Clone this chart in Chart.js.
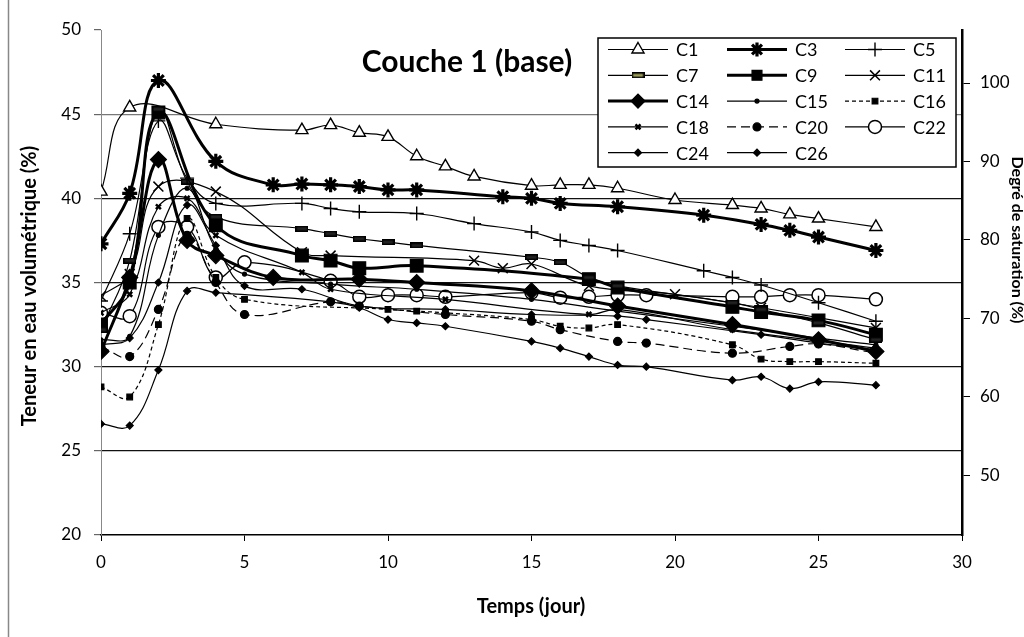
<!DOCTYPE html>
<html><head><meta charset="utf-8">
<script src="https://cdn.jsdelivr.net/npm/chart.js@4/dist/chart.umd.min.js"></script>
<style>html,body{margin:0;padding:0;background:#fff;overflow:hidden}#wrap{width:1024px;height:637px;position:relative}</style>
</head><body><div id="wrap"><canvas id="c" width="1024" height="637"></canvas></div>
<script>
const FONT = 'Lato, "Liberation Sans", sans-serif';
const chartTitle = 'Couche 1 (base)';
const xTitle = 'Temps (jour)';
const yTitle = 'Teneur en eau volumétrique (%)';
const y2Title = 'Degré de saturation (%)';
const xTicks = [0, 5, 10, 15, 20, 25, 30];
const yTicks = [20, 25, 30, 35, 40, 45, 50];
const y2Ticks = [50, 60, 70, 80, 90, 100];

const c1Days = [0,1,4,7,8,9,10,11,12,13,15,16,17,18,20,22,23,24,25,27];
const c1Vals = [40.4,45.4,44.4,44.05,44.35,43.9,43.65,42.5,41.9,41.3,40.75,40.8,40.8,40.6,39.9,39.6,39.4,39.05,38.8,38.3];
const c3Days = [0,1,2,4,6,7,8,9,10,11,14,15,16,18,21,23,24,25,27];
const c3Vals = [37.3,40.3,47.0,42.2,40.8,40.85,40.8,40.7,40.5,40.5,40.1,40.0,39.7,39.5,39.0,38.45,38.1,37.7,36.9];
const c5Days = [0,1,2,3,4,7,8,9,11,13,15,16,17,18,21,22,23,25,27];
const c5Vals = [33.9,37.9,44.6,41.2,39.7,39.7,39.4,39.2,39.1,38.5,38.0,37.5,37.2,36.9,35.7,35.3,34.85,33.8,32.7];
const c7Days = [0,1,2,3,4,7,8,9,10,11,15,16,17,18,22,23,25,27];
const c7Vals = [32.2,36.3,45.3,41.0,38.9,38.2,37.9,37.6,37.4,37.2,36.5,36.2,35.3,34.8,33.8,33.4,32.6,31.6];
const c9Days = [0,1,2,4,7,8,9,11,17,18,22,23,25,27];
const c9Vals = [32.5,35.0,45.1,38.4,36.6,36.3,35.85,36.0,35.2,34.7,33.55,33.25,32.75,31.9];
const c11Days = [0,1,2,4,7,8,13,14,15,17,20,23,27];
const c11Vals = [34.2,35.5,40.7,40.4,36.8,36.6,36.3,35.85,36.1,34.8,34.3,33.5,32.3];
const c14Days = [0,1,2,3,4,6,9,11,15,18,22,25,27];
const c14Vals = [30.9,35.3,42.3,37.5,36.6,35.3,35.2,35.0,34.5,33.6,32.5,31.6,30.9];
const c15Days = [0,1,2,3,4,5,8,11,15,18,22,25,27];
const c15Vals = [31.6,31.8,37.8,40.6,37.0,35.5,34.9,34.6,34.0,33.3,32.4,31.7,31.3];
const c16Days = [0,1,2,3,4,5,10,11,12,15,16,17,18,22,23,24,25,27];
const c16Vals = [28.8,28.2,32.5,38.8,35.3,34.0,33.4,33.3,33.2,32.8,32.4,32.3,32.5,31.3,30.45,30.3,30.3,30.2];
const c18Days = [0,1,2,3,4,7,8,12,17,18,22,27];
const c18Vals = [33.2,34.3,39.5,40.0,37.8,35.6,34.6,34.0,33.1,33.4,32.2,31.1];
const c20Days = [0,1,2,3,4,5,8,9,12,15,16,18,19,22,24,25,27];
const c20Vals = [31.2,30.6,33.4,37.8,35.0,33.1,33.85,33.6,33.1,32.7,32.2,31.5,31.4,30.8,31.2,31.35,30.8];
const c22Days = [0,1,2,3,4,5,8,9,10,11,12,15,16,17,18,19,22,23,24,25,27];
const c22Vals = [33.2,33.0,38.3,38.3,35.3,36.2,35.1,34.15,34.25,34.25,34.15,34.4,34.1,34.15,34.25,34.25,34.15,34.15,34.25,34.25,34.0];
const c24Days = [0,1,2,3,4,5,7,9,12,15,18,19,23,25,27];
const c24Vals = [31.3,31.7,35.0,39.6,37.2,34.8,34.6,33.6,33.4,33.1,33.0,32.8,31.9,31.4,31.0];
const c26Days = [0,1,2,3,4,8,9,10,11,12,15,16,17,18,19,22,23,24,25,27];
const c26Vals = [26.6,26.5,29.8,34.5,34.4,33.85,33.5,32.8,32.6,32.4,31.5,31.1,30.6,30.1,30.0,29.2,29.4,28.7,29.1,28.9];

function pts(days, vals){ return days.map((d,i)=>({x:d, y:vals[i]})); }

function barCanvas(fill){
  const cv = document.createElement('canvas');
  cv.width = 13; cv.height = 6;
  const g = cv.getContext('2d'); g.fillStyle = fill; g.fillRect(0,0,13,6);
  g.strokeStyle='#000'; g.lineWidth=1.5; g.strokeRect(0.75,0.75,11.5,4.5);
  return cv;
}
const barChartMarker = barCanvas('#222');
const barLegendMarker = barCanvas('#9a9a5a');

function ds(label, days, vals, o){
  return Object.assign({
    label, data: pts(days, vals), borderColor:'#000', backgroundColor:'#000',
    pointBackgroundColor:'#000', pointBorderColor:'#000', borderWidth:1.2,
    pointBorderWidth:1.2, pointRadius:3, pointStyle:'circle', tension:0.4, fill:false, yAxisID:'y'
  }, o);
}

const datasets = [
  ds('C1', c1Days, c1Vals, {pointStyle:'triangle', pointRadius:7, pointBackgroundColor:'#fff', pointBorderWidth:1.4}),
  ds('C3', c3Days, c3Vals, {pointStyle:'star', pointRadius:7.5, pointBorderWidth:3.2, borderWidth:3}),
  ds('C5', c5Days, c5Vals, {pointStyle:'cross', pointRadius:7, pointBorderWidth:1.4}),
  ds('C7', c7Days, c7Vals, {pointStyle:barChartMarker, legendStyle:barLegendMarker, pointRadius:5}),
  ds('C9', c9Days, c9Vals, {pointStyle:'rect', pointRadius:9, borderWidth:3}),
  ds('C11', c11Days, c11Vals, {pointStyle:'crossRot', pointRadius:7, pointBorderWidth:1.5}),
  ds('C14', c14Days, c14Vals, {pointStyle:'rectRot', pointRadius:8, borderWidth:3}),
  ds('C15', c15Days, c15Vals, {pointStyle:'circle', pointRadius:2}),
  ds('C16', c16Days, c16Vals, {pointStyle:'rect', pointRadius:4, borderDash:[4,3]}),
  ds('C18', c18Days, c18Vals, {pointStyle:'crossRot', pointRadius:3.5, pointBorderWidth:2.5}),
  ds('C20', c20Days, c20Vals, {pointStyle:'circle', pointRadius:4, borderDash:[9,5]}),
  ds('C22', c22Days, c22Vals, {pointStyle:'circle', pointRadius:6.5, pointBackgroundColor:'#fff', pointBorderWidth:1.5}),
  ds('C24', c24Days, c24Vals, {pointStyle:'rectRot', pointRadius:3.5}),
  ds('C26', c26Days, c26Vals, {pointStyle:'rectRot', pointRadius:3.5})
];

const deco = {
  id:'deco',
  afterDraw(chart){
    const ctx = chart.ctx;
    ctx.save();
    ctx.strokeStyle = '#888'; ctx.lineWidth = 1.5;
    ctx.beginPath(); ctx.moveTo(8.5,0); ctx.lineTo(8.5,637); ctx.stroke();
    ctx.fillStyle = '#000';
    ctx.font = 'bold 30px ' + FONT; ctx.textAlign='center'; ctx.textBaseline='middle';
    ctx.fillText(chartTitle, 467, 62);
    ctx.font = 'bold 20px ' + FONT;
    ctx.fillText(xTitle, 531, 607);
    ctx.save(); ctx.translate(30, 286); ctx.rotate(-Math.PI/2); ctx.fillText(yTitle, 0, 0); ctx.restore();
    ctx.font = 'bold 16px ' + FONT;
    ctx.save(); ctx.translate(1017, 240); ctx.rotate(Math.PI/2); ctx.fillText(y2Title, 0, 0); ctx.restore();
    const bx = 598, by = 38, bw = 358, bh = 129;
    ctx.fillStyle = '#fff'; ctx.fillRect(bx, by, bw, bh);
    ctx.strokeStyle = '#000'; ctx.lineWidth = 1.5; ctx.strokeRect(bx, by, bw, bh);
    const colX = [608, 727, 845];
    ctx.font = '18px ' + FONT; ctx.textAlign = 'left';
    chart.data.datasets.forEach((d, i) => {
      const r = Math.floor(i/3), c = i % 3;
      const y = 49.5 + r*25.8, x0 = colX[c], x1 = x0 + 60;
      ctx.save();
      ctx.strokeStyle = '#000'; ctx.lineWidth = d.borderWidth;
      ctx.setLineDash(d.borderDash || []);
      ctx.beginPath(); ctx.moveTo(x0, y); ctx.lineTo(x1, y); ctx.stroke();
      ctx.setLineDash([]);
      ctx.fillStyle = d.pointBackgroundColor; ctx.strokeStyle = '#000'; ctx.lineWidth = d.pointBorderWidth;
      Chart.helpers.drawPoint(ctx, {pointStyle:d.legendStyle || d.pointStyle, radius: Math.min(d.pointRadius, 7), rotation:0, borderWidth:d.pointBorderWidth}, (x0+x1)/2, y);
      ctx.restore();
      ctx.fillStyle = '#000'; ctx.textBaseline = 'middle';
      ctx.fillText(d.label, x1 + 8, y + 1);
    });
    ctx.restore();
  }
};

new Chart(document.getElementById('c'), {
  type:'line',
  data:{ datasets },
  options:{
    responsive:false, animation:false, devicePixelRatio:1,
    layout:{ padding:{ top:30, left:0, right:0, bottom:0 } },
    plugins:{ legend:{display:false}, title:{display:false}, tooltip:{enabled:false} },
    scales:{
      x:{ type:'linear', min:0, max:30,
        afterBuildTicks:s=>{ s.ticks = xTicks.map(v=>({value:v})); },
        afterFit:s=>{ s.height = 102; },
        grid:{ drawOnChartArea:false, drawTicks:true, tickLength:6, tickColor:'#000' },
        border:{ color:'#000', width:1.5 },
        ticks:{ color:'#000', font:{ family:FONT, size:17 }, padding:11 } },
      y:{ type:'linear', position:'left', min:20, max:50,
        afterBuildTicks:s=>{ s.ticks = yTicks.map(v=>({value:v})); },
        afterFit:s=>{ s.width = 101; },
        grid:{ drawTicks:true, tickLength:7, tickColor:'#666',
          color:c=> (c.tick && (c.tick.value===50 || c.tick.value===20)) ? 'rgba(0,0,0,0)' : (c.tick && c.tick.value===45 ? '#777' : '#111'),
          lineWidth:1.2 },
        border:{ color:'#888', width:1 },
        ticks:{ color:'#000', font:{ family:FONT, size:17 }, padding:13 } },
      y2:{ type:'linear', position:'right', min:42.35, max:106.76,
        afterBuildTicks:s=>{ s.ticks = y2Ticks.map(v=>({value:v})); },
        afterFit:s=>{ s.width = 62; },
        grid:{ drawOnChartArea:false, drawTicks:true, tickLength:8, tickColor:'#000' },
        border:{ color:'#000', width:2.5 },
        ticks:{ color:'#000', font:{ family:FONT, size:17 }, padding:10 } }
    }
  },
  plugins:[deco]
});
</script></body></html>
